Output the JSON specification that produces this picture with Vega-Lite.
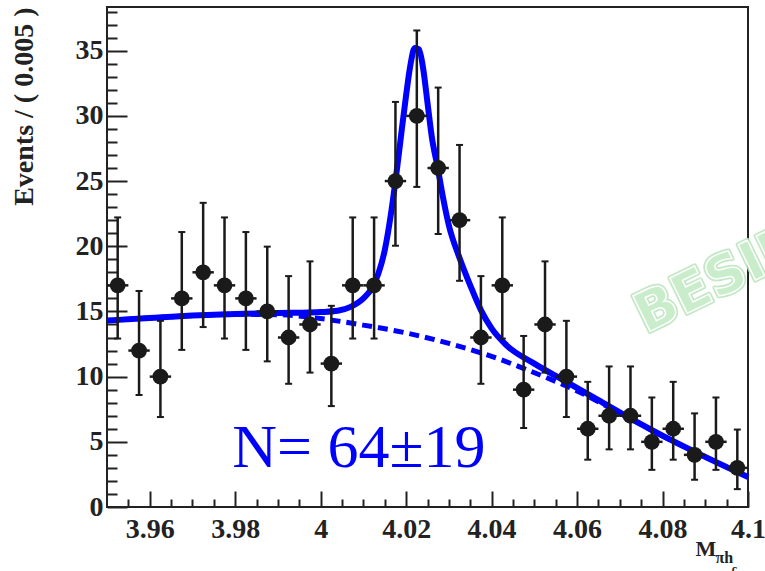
{
  "$schema": "https://vega.github.io/schema/vega-lite/v6.json",
  "width": 641,
  "height": 500,
  "autosize": {"type": "none"},
  "padding": {"left": 107, "top": 7, "right": 17, "bottom": 64},
  "background": "white",
  "config": {"view": {"stroke": "#222", "strokeWidth": 2}, "font": "Liberation Serif"},
  "datasets": {
    "pts": [
      {"x": 3.9525, "n": 17, "lo": 12.92, "hi": 22.21, "xlo": 3.950, "xhi": 3.955},
      {"x": 3.9575, "n": 12, "lo": 8.59, "hi": 16.57, "xlo": 3.955, "xhi": 3.960},
      {"x": 3.9625, "n": 10, "lo": 6.90, "hi": 14.28, "xlo": 3.960, "xhi": 3.965},
      {"x": 3.9675, "n": 16, "lo": 12.05, "hi": 21.09, "xlo": 3.965, "xhi": 3.970},
      {"x": 3.9725, "n": 18, "lo": 13.80, "hi": 23.33, "xlo": 3.970, "xhi": 3.975},
      {"x": 3.9775, "n": 17, "lo": 12.92, "hi": 22.21, "xlo": 3.975, "xhi": 3.980},
      {"x": 3.9825, "n": 16, "lo": 12.05, "hi": 21.09, "xlo": 3.980, "xhi": 3.985},
      {"x": 3.9875, "n": 15, "lo": 11.17, "hi": 19.97, "xlo": 3.985, "xhi": 3.990},
      {"x": 3.9925, "n": 13, "lo": 9.45, "hi": 17.71, "xlo": 3.990, "xhi": 3.995},
      {"x": 3.9975, "n": 14, "lo": 10.31, "hi": 18.84, "xlo": 3.995, "xhi": 4.000},
      {"x": 4.0025, "n": 11, "lo": 7.74, "hi": 15.43, "xlo": 4.000, "xhi": 4.005},
      {"x": 4.0075, "n": 17, "lo": 12.92, "hi": 22.21, "xlo": 4.005, "xhi": 4.010},
      {"x": 4.0125, "n": 17, "lo": 12.92, "hi": 22.21, "xlo": 4.010, "xhi": 4.015},
      {"x": 4.0175, "n": 25, "lo": 20.04, "hi": 31.07, "xlo": 4.015, "xhi": 4.020},
      {"x": 4.0225, "n": 30, "lo": 24.55, "hi": 36.55, "xlo": 4.020, "xhi": 4.025},
      {"x": 4.0275, "n": 26, "lo": 20.94, "hi": 32.17, "xlo": 4.025, "xhi": 4.030},
      {"x": 4.0325, "n": 22, "lo": 17.35, "hi": 27.77, "xlo": 4.030, "xhi": 4.035},
      {"x": 4.0375, "n": 13, "lo": 9.45, "hi": 17.71, "xlo": 4.035, "xhi": 4.040},
      {"x": 4.0425, "n": 17, "lo": 12.92, "hi": 22.21, "xlo": 4.040, "xhi": 4.045},
      {"x": 4.0475, "n": 9, "lo": 6.06, "hi": 13.12, "xlo": 4.045, "xhi": 4.050},
      {"x": 4.0525, "n": 14, "lo": 10.31, "hi": 18.84, "xlo": 4.050, "xhi": 4.055},
      {"x": 4.0575, "n": 10, "lo": 6.90, "hi": 14.28, "xlo": 4.055, "xhi": 4.060},
      {"x": 4.0625, "n": 6, "lo": 3.63, "hi": 9.60, "xlo": 4.060, "xhi": 4.065},
      {"x": 4.0675, "n": 7, "lo": 4.42, "hi": 10.78, "xlo": 4.065, "xhi": 4.070},
      {"x": 4.0725, "n": 7, "lo": 4.42, "hi": 10.78, "xlo": 4.070, "xhi": 4.075},
      {"x": 4.0775, "n": 5, "lo": 2.85, "hi": 8.40, "xlo": 4.075, "xhi": 4.080},
      {"x": 4.0825, "n": 6, "lo": 3.63, "hi": 9.60, "xlo": 4.080, "xhi": 4.085},
      {"x": 4.0875, "n": 4, "lo": 2.09, "hi": 7.18, "xlo": 4.085, "xhi": 4.090},
      {"x": 4.0925, "n": 5, "lo": 2.85, "hi": 8.40, "xlo": 4.090, "xhi": 4.095},
      {"x": 4.0975, "n": 3, "lo": 1.37, "hi": 5.94, "xlo": 4.095, "xhi": 4.100}
    ],
    "total": [
      {"x": 3.95, "y": 14.3}, {"x": 3.96, "y": 14.5}, {"x": 3.97, "y": 14.68}, {"x": 3.98, "y": 14.8},
      {"x": 3.99, "y": 14.88}, {"x": 3.995, "y": 14.9}, {"x": 4.0, "y": 14.95}, {"x": 4.004, "y": 15.05},
      {"x": 4.007, "y": 15.35}, {"x": 4.01, "y": 16.0}, {"x": 4.012, "y": 16.8}, {"x": 4.0135, "y": 17.9},
      {"x": 4.015, "y": 19.7}, {"x": 4.0165, "y": 22.6}, {"x": 4.018, "y": 26.3}, {"x": 4.019, "y": 29.0},
      {"x": 4.02, "y": 31.6}, {"x": 4.021, "y": 33.9}, {"x": 4.022, "y": 35.2}, {"x": 4.023, "y": 35.1},
      {"x": 4.024, "y": 33.6}, {"x": 4.025, "y": 31.0}, {"x": 4.026, "y": 28.4}, {"x": 4.0274, "y": 26.0},
      {"x": 4.0286, "y": 23.8}, {"x": 4.03, "y": 21.6}, {"x": 4.0325, "y": 19.1}, {"x": 4.035, "y": 17.0},
      {"x": 4.0375, "y": 15.1}, {"x": 4.04, "y": 13.7}, {"x": 4.0435, "y": 12.4}, {"x": 4.05, "y": 11.0},
      {"x": 4.0575, "y": 9.6}, {"x": 4.065, "y": 8.2}, {"x": 4.073, "y": 6.7}, {"x": 4.081, "y": 5.3},
      {"x": 4.089, "y": 4.0}, {"x": 4.1, "y": 2.3}
    ],
    "bkg": [
      {"x": 3.95, "y": 14.3}, {"x": 3.96, "y": 14.5}, {"x": 3.97, "y": 14.68}, {"x": 3.98, "y": 14.78},
      {"x": 3.99, "y": 14.75}, {"x": 4.0, "y": 14.45}, {"x": 4.01, "y": 13.95}, {"x": 4.02, "y": 13.35},
      {"x": 4.03, "y": 12.55}, {"x": 4.04, "y": 11.55}, {"x": 4.05, "y": 10.3}, {"x": 4.06, "y": 8.9},
      {"x": 4.07, "y": 7.2}, {"x": 4.08, "y": 5.45}, {"x": 4.09, "y": 3.85}, {"x": 4.1, "y": 2.3}
    ],
    "labels": [
      {"x": 3.9793, "y": 3.05, "t": "N= 64±19"}
    ],
    "wm": [
      {"x": 4.0761, "y": 13.3, "t": "BESIII"}
    ],
    "sub": [
      {"x": 4.0924, "y": -4.32, "t": "πh"}
    ],
    "subsub": [
      {"x": 4.0962, "y": -5.1, "t": "c"}
    ]
  },
  "resolve": {"axis": {"x": "independent", "y": "independent"}},
  "layer": [
    {
      "data": {"name": "bkg"},
      "mark": {"type": "line", "color": "#0000ff", "strokeWidth": 5, "strokeDash": [10, 6], "interpolate": "monotone"},
      "encoding": {
        "x": {"field": "x", "type": "quantitative", "scale": {"domain": [3.95, 4.1], "nice": false, "zero": false},
          "axis": {"orient": "bottom", "values": [3.955, 3.965, 3.97, 3.975, 3.985, 3.99, 3.995, 4.005, 4.01, 4.015, 4.025, 4.03, 4.035, 4.045, 4.05, 4.055, 4.065, 4.07, 4.075, 4.085, 4.09, 4.095],
            "tickSize": -8, "tickWidth": 2, "tickColor": "#222", "labels": false, "domain": false, "grid": false, "title": null}},
        "y": {"field": "y", "type": "quantitative", "scale": {"domain": [0, 38.35], "nice": false, "zero": false},
          "axis": {"orient": "left", "values": [1, 2, 3, 4, 6, 7, 8, 9, 11, 12, 13, 14, 16, 17, 18, 19, 21, 22, 23, 24, 26, 27, 28, 29, 31, 32, 33, 34, 36, 37, 38],
            "tickSize": -10, "tickWidth": 2, "tickColor": "#222", "labels": false, "domain": false, "grid": false, "title": null}}
      }
    },
    {
      "data": {"name": "total"},
      "mark": {"type": "line", "color": "#0000ff", "strokeWidth": 6, "interpolate": "monotone"},
      "encoding": {
        "x": {"field": "x", "type": "quantitative",
          "axis": {"orient": "bottom", "values": [3.96, 3.98, 4, 4.02, 4.04, 4.06, 4.08, 4.1], "format": ".2~f",
            "tickSize": -16, "tickWidth": 2, "tickColor": "#222", "domain": false, "grid": false,
            "labelFont": "Liberation Serif", "labelFontWeight": "bold", "labelFontSize": 28, "labelColor": "#222",
            "labelPadding": 24, "labelFlush": false, "labelOverlap": false,
            "title": "M", "titleFont": "Liberation Serif", "titleFontWeight": "bold", "titleFontSize": 22, "titleColor": "#222",
            "titleX": 588, "titleY": 48, "titleAlign": "left", "titleBaseline": "alphabetic", "titleAnchor": null}},
        "y": {"field": "y", "type": "quantitative",
          "axis": {"orient": "left", "values": [0, 5, 10, 15, 20, 25, 30, 35],
            "tickSize": -20, "tickWidth": 2, "tickColor": "#222", "domain": false, "grid": false,
            "labelFont": "Liberation Serif", "labelFontWeight": "bold", "labelFontSize": 28, "labelColor": "#222",
            "labelPadding": 24, "labelFlush": false, "labelOverlap": false,
            "title": "Events / ( 0.005 )", "titleFont": "Liberation Serif", "titleFontWeight": "bold", "titleFontSize": 28, "titleColor": "#222",
            "titleX": -75, "titleY": 0, "titleAngle": -90, "titleAlign": "right", "titleBaseline": "alphabetic"}}
      }
    },
    {
      "data": {"name": "pts"},
      "mark": {"type": "rule", "color": "#1a1a1a", "strokeWidth": 2.5},
      "encoding": {
        "x": {"field": "xlo", "type": "quantitative", "axis": null},
        "x2": {"field": "xhi"},
        "y": {"field": "n", "type": "quantitative", "axis": null}
      }
    },
    {
      "data": {"name": "pts"},
      "mark": {"type": "rule", "color": "#1a1a1a", "strokeWidth": 2.5},
      "encoding": {
        "x": {"field": "x", "type": "quantitative", "axis": null},
        "y": {"field": "lo", "type": "quantitative", "axis": null},
        "y2": {"field": "hi"}
      }
    },
    {
      "data": {"name": "pts"},
      "mark": {"type": "tick", "orient": "horizontal", "color": "#1a1a1a", "size": 7, "thickness": 2, "opacity": 1},
      "encoding": {
        "x": {"field": "x", "type": "quantitative", "axis": null},
        "y": {"field": "hi", "type": "quantitative", "axis": null}
      }
    },
    {
      "data": {"name": "pts"},
      "mark": {"type": "tick", "orient": "horizontal", "color": "#1a1a1a", "size": 7, "thickness": 2, "opacity": 1},
      "encoding": {
        "x": {"field": "x", "type": "quantitative", "axis": null},
        "y": {"field": "lo", "type": "quantitative", "axis": null}
      }
    },
    {
      "data": {"name": "pts"},
      "mark": {"type": "circle", "color": "#1a1a1a", "size": 250, "opacity": 1},
      "encoding": {
        "x": {"field": "x", "type": "quantitative", "axis": null},
        "y": {"field": "n", "type": "quantitative", "axis": null}
      }
    },
    {
      "data": {"name": "labels"},
      "mark": {"type": "text", "color": "#0000ff", "font": "Liberation Serif", "fontSize": 62, "align": "left", "baseline": "alphabetic"},
      "encoding": {
        "x": {"field": "x", "type": "quantitative", "axis": null},
        "y": {"field": "y", "type": "quantitative", "axis": null},
        "text": {"field": "t"}
      }
    },
    {
      "data": {"name": "wm"},
      "mark": {"type": "text", "fill": "#b9e6ba", "stroke": "#b9e6ba", "strokeWidth": 5, "strokeJoin": "round", "font": "DejaVu Sans", "fontWeight": "bold", "fontSize": 54, "align": "left", "baseline": "alphabetic", "angle": -26, "opacity": 0.85},
      "encoding": {
        "x": {"field": "x", "type": "quantitative", "axis": null},
        "y": {"field": "y", "type": "quantitative", "axis": null},
        "text": {"field": "t"}
      }
    },
    {
      "data": {"name": "wm"},
      "mark": {"type": "text", "fill": "#c9ecca", "stroke": "#ffffff", "strokeWidth": 1.5, "font": "DejaVu Sans", "fontWeight": "bold", "fontSize": 54, "align": "left", "baseline": "alphabetic", "angle": -26, "opacity": 1},
      "encoding": {
        "x": {"field": "x", "type": "quantitative", "axis": null},
        "y": {"field": "y", "type": "quantitative", "axis": null},
        "text": {"field": "t"}
      }
    },
    {
      "data": {"name": "sub"},
      "mark": {"type": "text", "color": "#222", "font": "Liberation Serif", "fontWeight": "bold", "fontSize": 16, "align": "left", "baseline": "alphabetic"},
      "encoding": {
        "x": {"field": "x", "type": "quantitative", "axis": null},
        "y": {"field": "y", "type": "quantitative", "axis": null},
        "text": {"field": "t"}
      }
    },
    {
      "data": {"name": "subsub"},
      "mark": {"type": "text", "color": "#222", "font": "Liberation Serif", "fontWeight": "bold", "fontSize": 12, "align": "left", "baseline": "alphabetic"},
      "encoding": {
        "x": {"field": "x", "type": "quantitative", "axis": null},
        "y": {"field": "y", "type": "quantitative", "axis": null},
        "text": {"field": "t"}
      }
    }
  ]
}
